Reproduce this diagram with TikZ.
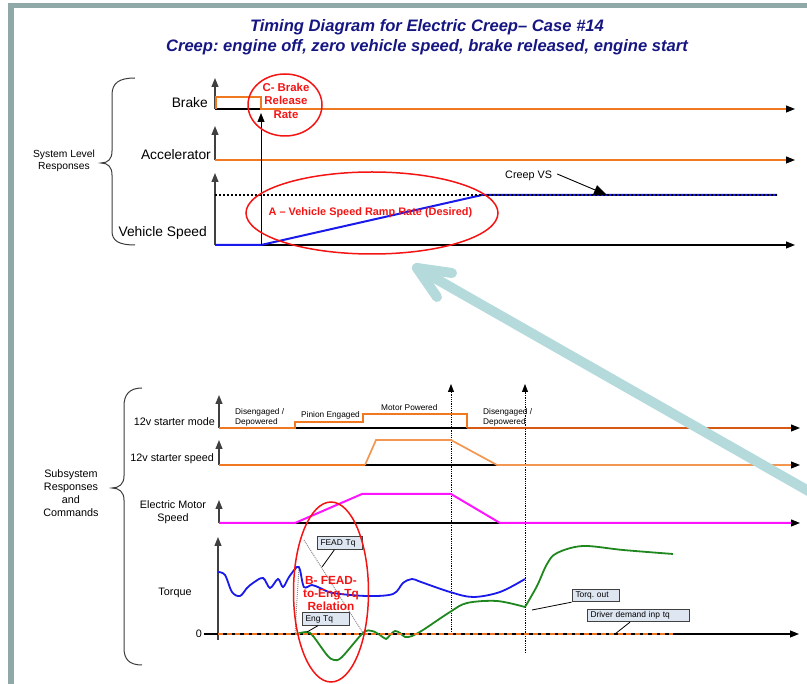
\documentclass[tikz,border=0pt]{standalone}
\usepackage{fontspec}
\setmainfont{Liberation Sans}
\usetikzlibrary{arrows.meta,calc}
\frenchspacing
\definecolor{frameteal}{RGB}{143,168,168}
\definecolor{titlenavy}{RGB}{22,22,130}
\definecolor{sigorange}{RGB}{240,120,32}
\definecolor{darkorange}{RGB}{214,88,18}
\definecolor{lightorange}{RGB}{242,150,82}
\definecolor{sigblue}{RGB}{25,25,235}
\definecolor{sigmagenta}{RGB}{255,20,255}
\definecolor{siggreen}{RGB}{30,135,30}
\definecolor{ringred}{RGB}{245,20,20}
\definecolor{calloutfill}{RGB}{222,230,242}
\definecolor{pointerteal}{RGB}{180,218,220}
\definecolor{bracegray}{RGB}{60,60,60}
\begin{document}
\begin{tikzpicture}[x=1pt,y=-1pt,
  axisline/.style={draw=black, line width=1.1pt, -{Triangle[length=9pt,width=7pt]}},
  yaxis/.style={draw=black!75, line width=1.2pt, -{Triangle[length=9pt,width=7pt]}},
  sig/.style={line width=2pt, line join=miter},
  bracepath/.style={draw=bracegray, line width=1pt},
  bigtitle/.style={text=titlenavy, font={\fontsize{16.6}{19}\selectfont\bfseries\itshape}, anchor=base, inner sep=0pt},
  biglbl/.style={font={\fontsize{13.8}{16}\selectfont}, anchor=east, inner sep=0pt},
  midlbl/.style={font={\fontsize{10.8}{13}\selectfont}, inner sep=0pt},
  steplbl/.style={font={\fontsize{8.3}{10}\selectfont}, inner sep=0pt, anchor=west, align=left},
  redlbl/.style={text=ringred, font={\fontsize{11.4}{13.5}\selectfont\bfseries}, align=center, inner sep=0pt},
  redring/.style={draw=ringred, line width=1.5pt},
  callout/.style={draw=black!75, fill=calloutfill, line width=0.8pt, font={\fontsize{8.4}{10}\selectfont},
    inner xsep=3.5pt, inner ysep=0pt, minimum height=12.5pt, align=left},
  leader/.style={draw=black, line width=0.8pt},
  dotarrow/.style={draw=black, line width=0.8pt, densely dotted, -{Triangle[length=8pt,width=6pt]}},
  relguide/.style={draw=black!45, line width=1pt, densely dotted}
]
\useasboundingbox (0,0) rectangle (807,684);

% slide frame
\fill[frameteal] (8,3) rectangle (807,8.5);
\fill[frameteal] (8,3) rectangle (13.5,684);

% headings
\node[bigtitle] (title1) at (427,32) {Timing Diagram for Electric Creep– Case \#14};
\node[bigtitle] (title2) at (427,51.5) {Creep: engine off, zero vehicle speed, brake released, engine start};

% ---------------- system level responses ----------------
\draw[bracepath] (135,78) .. controls (119,78) and (112,83) .. (112,95) -- (112,151)
  .. controls (112,159) and (108,163) .. (101,163) .. controls (108,163) and (112,167) .. (112,175)
  -- (112,231) .. controls (112,241) and (119,245) .. (135,245);
\node[midlbl, font={\fontsize{10.3}{12}\selectfont}, align=center] (syslbl) at (64,161) {System Level\\Responses};

% brake
\draw[yaxis] (215,109) -- (215,78);
\draw[axisline] (215,109) -- (795,109);
\draw[sig, sigorange] (216,109) -- (216,97) -- (261,97) -- (261,109) -- (786,109);
\node[biglbl] (brakelbl) at (208,103) {Brake};

% accelerator
\draw[yaxis] (215,160) -- (215,126);
\draw[axisline] (215,160) -- (795,160);
\draw[sig, sigorange] (215,160) -- (786,160);
\node[biglbl] (accellbl) at (211,155) {Accelerator};

% vehicle speed
\draw[yaxis] (215,245) -- (215,173);
\draw[axisline] (215,245) -- (795,245);
\draw[sig, sigblue] (215,245) -- (261,245) -- (482,195) -- (777,195);
\draw[black, line width=1.1pt, dash pattern=on 2pt off 2pt] (215,195) -- (777,195);
\node[biglbl] (vslbl) at (207,233) {Vehicle Speed};

% brake release instant
\draw[black, line width=1pt, -{Triangle[length=9pt,width=7pt]}] (261,245) -- (261,113);

% creep speed note
\node[midlbl, anchor=west] (creepvs) at (505,176) {Creep VS};
\coordinate (creeptip) at (607,195);
\draw[black, line width=0.9pt, -{Triangle[length=13pt,width=10pt]}] ($(creepvs.east)+(5,-2)$) -- (creeptip);

% annotations
\draw[redring] (285,105) ellipse [x radius=37, y radius=31];
\node[redlbl] (crel) at (286,100.5) {C- Brake\\Release\\Rate};
\draw[redring] (372,213) ellipse [x radius=126, y radius=41];
\node[redlbl, font={\fontsize{10.9}{13}\selectfont\bfseries}] (arel) at (370.5,213) {A – Vehicle Speed Ramp Rate (Desired)};

% ---------------- subsystem responses ----------------
\draw[bracepath] (142,388) .. controls (129,388) and (124,395) .. (124,406) -- (124,476)
  .. controls (124,484) and (119,488) .. (112,488) .. controls (119,488) and (124,492) .. (124,500)
  -- (124,648) .. controls (124,659) and (129,665) .. (142,665);
\node[midlbl, align=center] (subsyslbl) at (71,493.5) {Subsystem\\Responses\\and\\Commands};

% event markers
\draw[dotarrow] (451,632) -- (451,384);
\draw[dotarrow] (525,653) -- (525,384);

% 12v starter mode
\draw[yaxis] (219,428) -- (219,395);
\draw[axisline] (219,428) -- (800,428);
\draw[sig, sigorange] (219,428) -- (295,428) -- (295,422) -- (363,422) -- (363,414) -- (467,414) -- (467,428);
\draw[sig, darkorange] (467,428) -- (791,428);
\node[midlbl, anchor=east] (modelbl) at (215,422) {12v starter mode};
\node[steplbl] (mode1) at (235,417) {Disengaged /\\Depowered};
\node[steplbl] (mode2) at (301,415) {Pinion Engaged};
\node[steplbl] (mode3) at (381,408) {Motor Powered};
\node[steplbl] (mode4) at (483,417) {Disengaged /\\Depowered};

% 12v starter speed
\draw[yaxis] (219,465) -- (219,440);
\draw[axisline] (219,465) -- (800,465);
\draw[sig, sigorange] (219,465) -- (365,465);
\draw[sig, lightorange, line width=1.7pt] (365,465) -- (376,440) -- (451,440) -- (497,465) -- (791,465);
\node[midlbl, anchor=east] (speedlbl) at (214,459) {12v starter speed};

% electric motor speed
\draw[yaxis] (219,523) -- (219,500);
\draw[axisline] (219,523) -- (800,523);
\draw[sig, sigmagenta] (219,523) -- (295,523) -- (362,494) -- (451,494) -- (500,523) -- (791,523);
\node[midlbl, align=center] (motorlbl) at (173,512.5) {Electric Motor\\Speed};

% torque
\draw[yaxis] (218,640) -- (218,537);
\draw[axisline] (204,634) -- (799,634);
\node[midlbl] (tqlbl) at (175,593) {Torque};
\node[midlbl] (zerolbl) at (199,634) {0};

\draw[relguide] (295,633) -- (299,567);
\draw[relguide] (304,540) -- (363,633);

\draw[sig, sigblue, line width=1.8pt] plot[smooth, tension=0.55] coordinates {
  (218,572) (225,575) (232,592) (240,596) (247,588) (253,583) (263,578) (270,588)
  (278,579) (283,587) (289,577) (297,567) (300,570) (304,587) (312,585) (320,588)
  (333,593) (367,596) (393,594) (403,583) (412,579) (421,582) (450,592) (473,597)
  (500,592) (525,579)};

\draw[sig, siggreen, line width=1.8pt] plot[smooth, tension=0.55] coordinates {
  (296,634) (307,632) (313,636) (327,655) (334,660) (342,657) (363,633) (372,631)
  (380,635) (386,639) (390,635) (395,631) (400,633) (405,637) (412,636) (423,630)
  (450,612) (467,603) (497,601) (525,607)};
\draw[sig, siggreen, line width=1.8pt] plot[smooth, tension=0.55] coordinates {
  (525,607) (537,586) (547,564) (557,553) (583,546) (623,550) (673,554)};

\draw[sigorange, line width=2.6pt, dash pattern=on 5pt off 3.5pt] (218,634) -- (673,634);

% signal callouts
\coordinate (feadpt) at (322,567);
\coordinate (engpt) at (307,632);
\coordinate (outpt) at (532,610);
\coordinate (drvpt) at (615,634);
\node[callout, text width=38pt] (feadbox) at (339.5,543) {FEAD Tq};
\node[callout, text width=40pt] (engbox) at (325.5,619) {Eng Tq};
\node[callout, text width=40pt] (outbox) at (595.5,595.5) {Torq. out};
\node[callout, text width=95pt] (drvbox) at (638,615.5) {Driver demand inp tq};
\draw[leader] ($(feadbox.south)+(-5,0)$) -- (feadpt);
\draw[leader] ($(engbox.south)+(-7.5,0)$) -- (engpt);
\draw[leader] (outbox.south west) -- (outpt);
\draw[leader] ($(drvbox.south)+(-8,0)$) -- (drvpt);

\draw[redring] (331,592) ellipse [x radius=37.5, y radius=90];
\node[redlbl, font={\fontsize{11.8}{13}\selectfont\bfseries}] (brel) at (331,593) {B- FEAD-\\to-Eng-Tq\\Relation};

% pointer back to the ramp-rate note
\draw[pointerteal, line width=10pt, line cap=round, line join=round]
  (452,273) -- (417,268) -- (437,297);
\draw[pointerteal, line width=10pt, line cap=round] (417,268) -- (812,493);
\end{tikzpicture}
\end{document}
